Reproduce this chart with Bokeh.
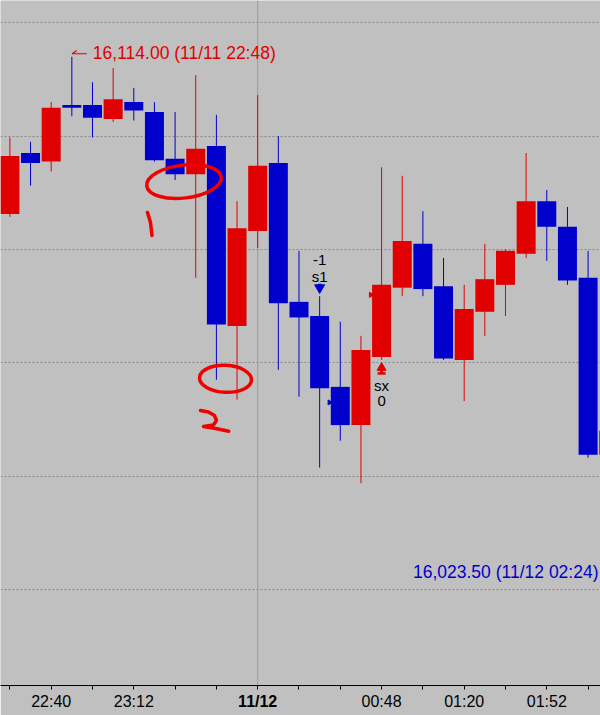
import math
from bokeh.plotting import figure
from bokeh.models import Range1d, FixedTicker, Grid, Span, LinearAxis, ColumnDataSource
from bokeh.embed import file_html
from bokeh.resources import INLINE
from bokeh.core.properties import value

# ---------------- data (8-minute bars, index 0 = 11/12 00:00) ----------------
BAR_INDEX = list(range(-12, 18))
BAR_TIMES = ["22:24", "22:32", "22:40", "22:48", "22:56", "23:04", "23:12", "23:20",
             "23:28", "23:36", "23:44", "23:52", "00:00", "00:08", "00:16", "00:24",
             "00:32", "00:40", "00:48", "00:56", "01:04", "01:12", "01:20", "01:28",
             "01:36", "01:44", "01:52", "02:00", "02:08", "02:16"]
BAR_DATES = ["11/11"] * 12 + ["11/12"] * 18

OPEN = [16086.25, 16097.0, 16095.5, 16105.5, 16105.5, 16103.0, 16106.0, 16104.25,
        16096.0, 16093.25, 16098.25, 16066.5, 16083.25, 16095.25, 16070.75, 16068.25,
        16055.75, 16049.0, 16061.0, 16073.25, 16081.0, 16073.5, 16060.5, 16069.0,
        16073.75, 16079.25, 16088.5, 16084.0, 16075.0, 16043.75]
HIGH = [16099.75, 16099.0, 16106.0, 16114.0, 16109.5, 16112.0, 16108.5, 16106.0,
        16104.25, 16110.75, 16103.75, 16088.5, 16107.25, 16100.0, 16079.75, 16071.75,
        16067.25, 16064.75, 16094.5, 16093.0, 16086.75, 16078.5, 16073.75, 16081.0,
        16080.0, 16097.0, 16090.5, 16087.5, 16079.75, 16050.0]
LOW = [16085.75, 16091.25, 16093.75, 16103.5, 16099.75, 16102.5, 16102.75, 16095.5,
       16092.25, 16075.0, 16057.0, 16053.5, 16080.25, 16058.75, 16054.0, 16041.5,
       16046.25, 16038.75, 16060.5, 16071.75, 16071.75, 16060.5, 16053.25, 16064.75,
       16068.25, 16078.5, 16078.0, 16073.75, 16043.25, 16040.0]
CLOSE = [16096.5, 16095.25, 16105.0, 16105.0, 16103.25, 16106.5, 16104.5, 16095.75,
         16093.25, 16097.75, 16066.75, 16083.75, 16094.75, 16070.5, 16068.0, 16055.5,
         16049.0, 16062.25, 16073.75, 16081.5, 16073.0, 16060.75, 16069.5, 16074.75,
         16079.75, 16088.5, 16084.0, 16074.5, 16043.75, 16048.0]

AXIS_TICKS = list(range(-12, 18, 2))
AXIS_LABELS = {-10: "22:40", -6: "23:12", 6: "00:48", 10: "01:20", 14: "01:52"}
DATE_TICK = 0
DATE_TICK_LABEL = "11/12"
GRID_LEVELS = [16020, 16040, 16060, 16080, 16100, 16120]

LOW_VALUE = 16023.5
LOW_DATE = "11/12"
LOW_TIME = "02:24"

# trade signals
SIGNAL_SELL_BAR = 3
SIGNAL_SELL_TEXT = ["-1", "s1"]
SIGNAL_EXIT_BAR = 6
SIGNAL_EXIT_TEXT = ["sx", "0"]
FILL_BARS = [4, 6]
FILL_PRICES = [16053.0, 16072.0]

# hand-drawn marks (bar index, price)
ELLIPSE_X = [-3.569, -1.559]
ELLIPSE_Y = [16091.99, 16057.17]
ELLIPSE_W_PX = [75, 52]
ELLIPSE_H_PX = [33, 27]
ELLIPSE_ANGLE = [0.12, -0.05]
STROKE_XS = [[-5.337, -5.191, -5.119],
             [-2.770, -2.383, -2.092, -1.995, -2.140, -2.625, -2.044, -1.400]]
STROKE_YS = [[16086.52, 16084.75, 16082.46],
             [16051.58, 16051.31, 16050.69, 16049.81, 16049.02, 16048.75, 16048.40, 16047.92]]

# ---------------- style ----------------
RED = "#e00000"
BLUE = "#0000cc"
PEN = "#f00000"
BG = "#c0c0c0"
FONT = "Liberation Sans"

W, H = 600, 715
FRAME_H = 685
X_START, X_END = -12.455, 16.601
Y_START, Y_END = 16003.05, 16123.93
PX_PER_PT = FRAME_H / (Y_END - Y_START)
PX_PER_BAR = W / (X_END - X_START)


def dy(px):
    return px / PX_PER_PT


def dx(px):
    return px / PX_PER_BAR


p = figure(width=W, height=H, title=None,
           x_range=Range1d(X_START, X_END), y_range=Range1d(Y_START, Y_END),
           output_backend="svg", toolbar_location=None, y_axis_location=None,
           min_border_left=0, min_border_right=0, min_border_top=0, min_border_bottom=H - FRAME_H,
           background_fill_color=BG, border_fill_color=BG, outline_line_color=None)

p.xgrid.visible = False
p.ygrid.visible = False
grid = Grid(dimension=1, ticker=FixedTicker(ticks=GRID_LEVELS), grid_line_color="#8a8a8a",
            grid_line_dash="2 2", grid_line_width=1)
p.add_layout(grid, "center")

p.add_layout(Span(location=DATE_TICK, dimension="height", line_color="#9a9a9a",
                  line_width=1, level="underlay"))

# main time axis: line, ticks and time labels
ax = p.xaxis[0]
ax.ticker = FixedTicker(ticks=AXIS_TICKS, minor_ticks=[])
ax.major_label_overrides = {t: AXIS_LABELS.get(t, "") for t in AXIS_TICKS}
ax.axis_line_color = "black"
ax.major_tick_line_color = "black"
ax.major_tick_in = 0
ax.major_tick_out = 4
ax.minor_tick_line_color = None
ax.major_label_standoff = 3
ax.major_label_text_font = FONT
ax.major_label_text_font_size = "16px"
ax.major_label_text_color = "black"

# date axis: bold date label, pulled up into the same row
dax = LinearAxis(ticker=FixedTicker(ticks=[DATE_TICK], minor_ticks=[]),
                 major_label_overrides={DATE_TICK: DATE_TICK_LABEL},
                 axis_line_color=None, major_tick_line_color=None, minor_tick_line_color=None,
                 major_tick_in=0, major_tick_out=0, major_label_standoff=-20,
                 major_label_text_font=FONT, major_label_text_font_size="16px",
                 major_label_text_font_style="bold", major_label_text_color="black")
p.add_layout(dax, "below")

# ---------------- candles ----------------
colors = [RED if c >= o else BLUE for o, c in zip(OPEN, CLOSE)]
src = ColumnDataSource(dict(x=BAR_INDEX, high=HIGH, low=LOW,
                            top=[max(o, c) for o, c in zip(OPEN, CLOSE)],
                            bottom=[min(o, c) for o, c in zip(OPEN, CLOSE)],
                            color=colors))
p.segment(x0="x", y0="low", x1="x", y1="high", line_color="color", line_width=1, source=src)
p.vbar(x="x", width=0.92, top="top", bottom="bottom", fill_color="color",
       line_color=None, source=src)

# ---------------- high / low labels ----------------
hi_i = HIGH.index(max(HIGH))
hi_x, hi_v = BAR_INDEX[hi_i], HIGH[hi_i]
p.text(x=[hi_x], y=[hi_v], text=[f"{hi_v:,.2f} ({BAR_DATES[hi_i]} {BAR_TIMES[hi_i]})"],
       x_offset=21, y_offset=-4, text_color=RED, text_font=value(FONT),
       text_font_size="17.5px", text_align="left", text_baseline="middle")
p.segment(x0=[hi_x, hi_x + dx(0.4)], y0=[hi_v + dy(3), hi_v + dy(3)],
          x1=[hi_x + dx(15), hi_x + dx(4.8)], y1=[hi_v + dy(3), hi_v + dy(6.3)],
          line_color=RED, line_width=1.2)

p.text(x=[X_END], y=[LOW_VALUE], text=[f"{LOW_VALUE:,.2f} ({LOW_DATE} {LOW_TIME})"],
       x_offset=-2, y_offset=2, text_color=BLUE, text_font=value(FONT),
       text_font_size="17.5px", text_align="right", text_baseline="middle")

# ---------------- signals ----------------
sb = BAR_INDEX.index(SIGNAL_SELL_BAR)
sh = HIGH[sb]
p.text(x=[SIGNAL_SELL_BAR] * 2, y=[sh, sh], text=SIGNAL_SELL_TEXT, x_offset=0,
       y_offset=[-36, -20], text_color="black", text_font=value(FONT),
       text_font_size="15px", text_align="center", text_baseline="middle")
p.segment(x0=[SIGNAL_SELL_BAR], y0=[sh + dy(12.5)], x1=[SIGNAL_SELL_BAR], y1=[sh + dy(8)],
          line_color=BLUE, line_width=3)
p.scatter(x=[SIGNAL_SELL_BAR], y=[sh + dy(8.5)], marker="inverted_triangle", size=10,
          fill_color=BLUE, line_color=BLUE)

eb = BAR_INDEX.index(SIGNAL_EXIT_BAR)
el = LOW[eb]
p.scatter(x=[SIGNAL_EXIT_BAR], y=[el - dy(7.8)], marker="triangle", size=9,
          fill_color=RED, line_color=RED)
p.segment(x0=[SIGNAL_EXIT_BAR], y0=[el - dy(9)], x1=[SIGNAL_EXIT_BAR], y1=[el - dy(13.5)],
          line_color=RED, line_width=3)
p.segment(x0=[SIGNAL_EXIT_BAR - dx(4)], y0=[el - dy(13.5)], x1=[SIGNAL_EXIT_BAR + dx(4)],
          y1=[el - dy(13.5)], line_color=RED, line_width=2.5)
p.text(x=[SIGNAL_EXIT_BAR] * 2, y=[el, el], text=SIGNAL_EXIT_TEXT, x_offset=0,
       y_offset=[26, 41], text_color="black", text_font=value(FONT),
       text_font_size="15px", text_align="center", text_baseline="middle")

p.scatter(x=[b - 0.52 for b in FILL_BARS], y=FILL_PRICES, marker="triangle",
          angle=-math.pi / 2, size=5, fill_color=[BLUE, RED], line_color=[BLUE, RED])

# ---------------- hand-drawn marks ----------------
p.ellipse(x=ELLIPSE_X, y=ELLIPSE_Y, width=ELLIPSE_W_PX, height=ELLIPSE_H_PX,
          width_units="screen", height_units="screen", angle=ELLIPSE_ANGLE,
          fill_color=None, line_color=PEN, line_width=3.5)
p.multi_line(xs=STROKE_XS, ys=STROKE_YS, line_color=PEN, line_width=3.5,
             line_cap="round", line_join="round")

open("out.html", "w").write(file_html(p, INLINE))
